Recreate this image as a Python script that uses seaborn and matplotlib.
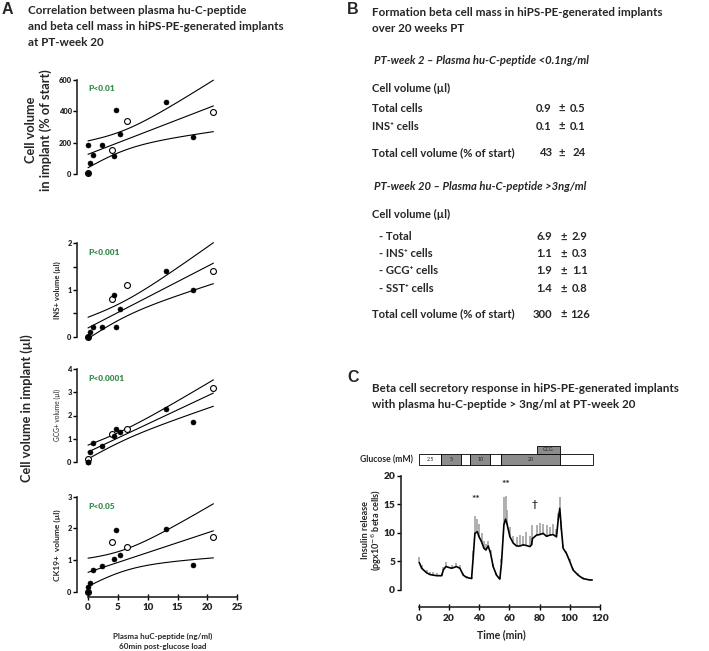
import matplotlib
matplotlib.use("Agg")
import matplotlib.pyplot as plt
import numpy as np
import pandas as pd
import seaborn as sns
from matplotlib.patches import Rectangle

W, H = 709, 651

# ---- panel A: plasma hu-C-peptide (ng/ml), filled and open symbols
cpep_filled = [0.0, 0.0, 0.3, 0.8, 2.4, 4.4, 4.7, 5.4, 13.0, 17.6]
cpep_open = [0.0, 4.0, 6.45, 21.0]

pct_filled = [8, 185, 70, 121, 183, 117, 406, 253, 460, 234]
pct_open = [8, 155, 340, 396]
ins_filled = [0.0, 0.0, 0.09, 0.2, 0.2, 0.9, 0.2, 0.6, 1.41, 1.0]
ins_open = [0.0, 0.8, 1.1, 1.41]
gcg_filled = [0.0, 0.0, 0.4, 0.8, 0.7, 1.1, 1.4, 1.3, 2.3, 1.7]
gcg_open = [0.1, 1.2, 1.4, 3.2]
ck19_filled = [0.0, 0.15, 0.28, 0.68, 0.81, 1.03, 1.95, 1.15, 1.99, 0.84]
ck19_open = [0.0, 1.56, 1.41, 1.74]

p_values = ["P<0.01", "P<0.001", "P<0.0001", "P<0.05"]

# ---- panel B: table
week2_rows = ["Total cells", "INS\u207a cells"]
week2_mean = ["0.9", "0.1"]
week2_sd = ["0.5", "0.1"]
week2_total = ("43", "24")
week20_rows = ["- Total", "- INS\u207a cells", "- GCG\u207a cells", "- SST\u207a cells"]
week20_mean = ["6.9", "1.1", "1.9", "1.4"]
week20_sd = ["2.9", "0.3", "1.1", "0.8"]
week20_total = ("300", "126")

# ---- panel C: perifusion trace
time_min = [0.4, 2, 5.3, 7.5, 9.7, 12, 15.2, 16.3, 18, 21.8, 25, 27.3, 29.5, 31.7, 35,
            36.1, 37.2, 38.8, 40, 41.6, 43.2, 44.5, 46, 47.6, 49.3, 51.5, 53.7,
            54.8, 56.4, 57.5, 58.6, 60.4, 62.6, 64.8, 67, 69.2, 71, 73.6, 74.7,
            75.3, 78, 80, 82.4, 84.6, 86.8, 89, 91.2, 92.3, 93.4, 94.5, 95.6,
            97.8, 100, 102.2, 105.5, 108.8, 113.2, 114.8]
insulin_mean = [4.8, 3.8, 3.0, 2.7, 2.6, 2.5, 2.5, 3.5, 4.1, 3.8, 4.1, 3.8, 2.6, 2.2, 2.0,
                5.8, 9.9, 10.2, 9.3, 8.45, 7.3, 7.0, 7.7, 6.4, 4.1, 2.6, 1.9,
                4.7, 11.4, 12.4, 11.4, 9.3, 8.2, 7.7, 7.7, 7.9, 7.8, 7.6, 7.9,
                9.0, 9.6, 9.7, 9.9, 9.4, 9.6, 9.7, 9.3, 12.2, 14.3, 10.5, 7.3,
                6.4, 5.0, 3.5, 2.6, 2.0, 1.75, 1.75]
insulin_sem = [1.0, 0.5, 0.5, 0.4, 0.5, 0.4, 0.4, 0.6, 0.8, 0.6, 0.7, 0.5, 0.3, 0.3, 0.3,
               1.0, 3.0, 2.3, 2.2, 1.5, 1.2, 1.0, 0.9, 0.6, 0.4, 0.3, 0.2,
               0.8, 4.9, 4.0, 2.6, 1.7, 1.3, 1.5, 2.0, 1.6, 2.4, 1.8, 1.2,
               2.3, 1.7, 2.0, 1.6, 1.9, 1.5, 1.8, 1.4, 1.3, 1.9, 1.5, 0.5,
               0.5, 0.4, 0.3, 0.3, 0.2, 0.2, 0.2]
glucose_labels = ["2.5", "5", "", "10", "", "20", ""]
glucose_edges = [0, 15, 28, 34, 47.5, 54.5, 93.5, 115.5]
glucose_grey = [False, True, False, True, False, True, False]
gcg_window = (78, 93.5)
stars = [("**", 37.7, 15.8), ("**", 57.5, 18.5), ("\u2020", 76.4, 15.0)]

sns.set_theme(style="white")
plt.rcParams["font.family"] = ["Lato", "DejaVu Sans"]
plt.rcParams["axes.linewidth"] = 1.2

fig = plt.figure(figsize=(W / 100, H / 100), dpi=100)


def px(x, y):
    return x / W, 1 - y / H


def add_ax(left, top, right, bottom):
    return fig.add_axes([left / W, 1 - bottom / H, (right - left) / W, (bottom - top) / H])


def bold_ticks(ax, axis="y"):
    labels = ax.get_yticklabels() if axis == "y" else ax.get_xticklabels()
    for lbl in labels:
        lbl.set_fontweight("heavy")


def fit_lines(ax, x, y, t_crit=2.179):
    x = np.asarray(x, float)
    y = np.asarray(y, float)
    slope, intercept = np.polyfit(x, y, 1)
    n = len(x)
    resid = y - (slope * x + intercept)
    s = np.sqrt((resid ** 2).sum() / (n - 2))
    sxx = ((x - x.mean()) ** 2).sum()
    xs = np.linspace(x.min(), x.max(), 120)
    yhat = slope * xs + intercept
    half = t_crit * s * np.sqrt(1 / n + (xs - x.mean()) ** 2 / sxx)
    for yy in (yhat, yhat - half, yhat + half):
        ax.plot(xs, yy, color="black", lw=0.8, zorder=2)


# ---- panel A scatter plots
panels = [
    (pct_filled, pct_open, (76.9, 177.1), (-20, 620), [0, 200, 400, 600], [], (0, 600)),
    (ins_filled, ins_open, (240.5, 339.5), (-0.06, 2.06), [0, 1, 2], [0.5, 1.5], (0, 2)),
    (gcg_filled, gcg_open, (366.5, 464.5), (-0.12, 4.12), [0, 1, 2, 3, 4], [], (0, 4)),
    (ck19_filled, ck19_open, (494.0, 597.1), (-0.17, 3.09), [0, 1, 2, 3], [], (0, 3)),
]
a_axes = []
for i, (yf, yo, (top, bottom), ylim, ticks, minor, bounds) in enumerate(panels):
    ax = add_ax(77.25, top, 240, bottom)
    fit_lines(ax, cpep_filled + cpep_open, yf + yo)
    sns.scatterplot(x=cpep_open, y=yo, color="white", edgecolor="black", s=18,
                    linewidth=0.8, ax=ax, zorder=3)
    sns.scatterplot(x=cpep_filled, y=yf, color="black", edgecolor="black", s=13,
                    linewidth=0.4, ax=ax, zorder=4)
    ax.set_xlim(-1.8, 25.45)
    ax.set_ylim(*ylim)
    ax.set_yticks(ticks)
    ax.set_yticks(minor, minor=True)
    ax.spines["left"].set_bounds(*bounds)
    sns.despine(ax=ax, bottom=(i < 3))
    ax.tick_params(axis="y", which="both", direction="out", length=3, width=1,
                   labelsize=5.4, pad=1, left=True, color="black")
    bold_ticks(ax)
    ax.text(0, ylim[1] - (ylim[1] - ylim[0]) * 0.12, p_values[i], color="#3a8c4f",
            fontsize=6, fontweight="heavy", va="center")
    if i < 3:
        ax.set_xticks([])
    a_axes.append(ax)

ax4 = a_axes[3]
ax4.set_xticks([0, 5, 10, 15, 20, 25])
ax4.spines["bottom"].set_bounds(0, 25)
ax4.tick_params(axis="x", direction="inout", length=5, width=1, labelsize=7, pad=2,
                bottom=True, color="black")
bold_ticks(ax4, "x")

fig.text(*px(163, 636), "Plasma huC-peptide (ng/ml)", fontsize=5.8, fontweight="bold",
         ha="center", va="center")
fig.text(*px(163, 646), "60min post-glucose load", fontsize=5.8, fontweight="bold",
         ha="center", va="center")

fig.text(*px(31, 130), "Cell volume", rotation=90, fontsize=9.2, fontweight="bold",
         ha="center", va="center")
fig.text(*px(46, 130), "in implant (% of start)", rotation=90, fontsize=9.2,
         fontweight="bold", ha="center", va="center")
fig.text(*px(27, 408), "Cell volume in implant (\u00b5l)", rotation=90, fontsize=9.2,
         fontweight="bold", ha="center", va="center")
fig.text(*px(57, 290), "INS+ volume (\u00b5l)", rotation=90, fontsize=5.6,
         fontweight="bold", ha="center", va="center")
fig.text(*px(57, 415), "GCG+ volume (\u00b5l)", rotation=90, fontsize=4.8,
         ha="center", va="center")
fig.text(*px(57, 545), "CK19+  volume (\u00b5l)", rotation=90, fontsize=6,
         fontweight="bold", ha="center", va="center")

# ---- panel letters and titles
for letter, (lx, ly) in zip("ABC", [(2, 10), (347, 10), (347, 378)]):
    fig.text(*px(lx, ly), letter, fontsize=11.5, fontweight="bold",
             family="Liberation Sans", va="center")

title_kw = dict(fontsize=8.4, fontweight="bold", va="center", ha="left")
for y, line in zip([10, 27, 43], ["Correlation between plasma hu-C-peptide",
                                  "and beta cell mass in hiPS-PE-generated implants",
                                  "at PT-week 20"]):
    fig.text(*px(28, y), line, **title_kw)
for y, line in zip([12, 28], ["Formation beta cell mass in hiPS-PE-generated implants",
                              "over 20 weeks PT"]):
    fig.text(*px(372.5, y), line, **title_kw)
for y, line in zip([389, 404], ["Beta cell secretory response in hiPS-PE-generated implants",
                                "with plasma hu-C-peptide > 3ng/ml at PT-week 20"]):
    fig.text(*px(372.5, y), line, **title_kw)

# ---- panel B table
tkw = dict(fontsize=8.1, fontweight="bold", va="center")
fig.text(*px(374, 61), "PT-week 2 \u2013 Plasma hu-C-peptide <0.1ng/ml", style="italic", **tkw)
fig.text(*px(372, 88), "Cell volume (\u00b5l)", **tkw)
for y, name, m, sd in zip([108, 126], week2_rows, week2_mean, week2_sd):
    fig.text(*px(372, y), name, **tkw)
    fig.text(*px(551, y), m, ha="right", **tkw)
    fig.text(*px(562, y), "\u00b1", ha="center", **tkw)
    fig.text(*px(570, y), sd, ha="left", **tkw)
fig.text(*px(372, 153), "Total cell volume (% of start)", **tkw)
fig.text(*px(553, 153), week2_total[0], ha="right", **tkw)
fig.text(*px(562, 153), "\u00b1", ha="center", **tkw)
fig.text(*px(573, 153), week2_total[1], ha="left", **tkw)

fig.text(*px(374, 187), "PT-week 20 \u2013 Plasma hu-C-peptide >3ng/ml", style="italic", **tkw)
fig.text(*px(372, 214), "Cell volume (\u00b5l)", **tkw)
for y, name, m, sd in zip([237, 254, 271, 289], week20_rows, week20_mean, week20_sd):
    fig.text(*px(379, y), name, **tkw)
    fig.text(*px(552, y), m, ha="right", **tkw)
    fig.text(*px(564, y), "\u00b1", ha="center", **tkw)
    fig.text(*px(572, y), sd, ha="left", **tkw)
fig.text(*px(372, 314), "Total cell volume (% of start)", **tkw)
fig.text(*px(552, 314), week20_total[0], ha="right", **tkw)
fig.text(*px(564, 314), "\u00b1", ha="center", **tkw)
fig.text(*px(570, 314), week20_total[1], ha="left", **tkw)

# ---- panel C trace
axc = add_ax(400.7, 474, 601.5, 607.3)
trace = pd.DataFrame({"time": time_min, "mean": insulin_mean, "sem": insulin_sem})
axc.vlines(trace["time"], trace["mean"], trace["mean"] + trace["sem"], color="#9a9a9a",
           lw=1.1, zorder=1)
sns.lineplot(data=trace, x="time", y="mean", color="black", lw=1.2, ax=axc, zorder=2)
axc.set_xlim(-11.9, 121)
axc.set_ylim(-3.03, 20.3)
axc.set_xticks(range(0, 121, 20))
axc.set_yticks(range(0, 21, 5))
axc.spines["bottom"].set_bounds(0, 120)
axc.spines["left"].set_bounds(0, 20)
sns.despine(ax=axc)
axc.tick_params(axis="x", direction="inout", length=5, width=1, labelsize=7.3, pad=2,
                bottom=True, color="black")
axc.tick_params(axis="y", direction="out", length=3, width=1, labelsize=7.3, pad=1,
                left=True, color="black")
bold_ticks(axc, "x")
bold_ticks(axc, "y")
axc.set_xlabel("Time (min)", fontsize=7.6, fontweight="bold", labelpad=5)
axc.set_ylabel("")
fig.text(*px(366, 530), "Insulin release", rotation=90, fontsize=6.6, fontweight="bold",
         ha="center", va="center")
fig.text(*px(377, 530), "(pgx10$^{-6}$ beta cells)", rotation=90, fontsize=6.6,
         fontweight="bold", ha="center", va="center")

for sym, sx, sy in stars:
    axc.text(sx, sy, sym, fontsize=7.5, fontweight="bold", ha="center", va="center")

# glucose bar above the trace (data x, layout y)
bar_lo, bar_hi, gcg_hi = 21.87, 23.8, 25.25
for lo, hi, lab, grey in zip(glucose_edges[:-1], glucose_edges[1:], glucose_labels, glucose_grey):
    axc.add_patch(Rectangle((lo, bar_lo), hi - lo, bar_hi - bar_lo,
                            facecolor="#8c8c8c" if grey else "white", edgecolor="black",
                            lw=0.6, clip_on=False))
    if lab:
        axc.text((lo + hi) / 2, (bar_lo + bar_hi) / 2, lab, fontsize=3.8, ha="center",
                 va="center", clip_on=False)
axc.add_patch(Rectangle((gcg_window[0], bar_hi), gcg_window[1] - gcg_window[0],
                        gcg_hi - bar_hi, facecolor="#8c8c8c", edgecolor="black", lw=0.6,
                        clip_on=False))
axc.text(sum(gcg_window) / 2, (bar_hi + gcg_hi) / 2, "GCG", fontsize=3.6, ha="center",
         va="center", clip_on=False)
fig.text(*px(413, 459.5), "Glucose (mM)", fontsize=6.2, fontweight="bold", ha="right",
         va="center")

fig.savefig("out.png", dpi=100)
